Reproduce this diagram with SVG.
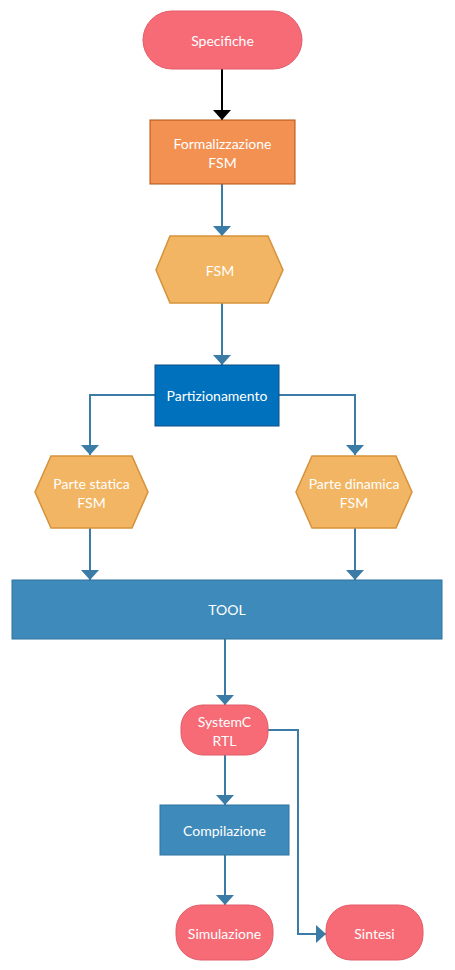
<svg xmlns="http://www.w3.org/2000/svg" width="455" height="970" viewBox="0 0 455 970">
<defs>
<style>
text{font-family:Lato,"Open Sans","Liberation Sans",sans-serif;font-size:14px;fill:#ffffff;text-anchor:middle;dominant-baseline:central}
.pink{fill:#F76B76;stroke:#E15A66;stroke-width:1}
.orange{fill:#F39152;stroke:#B0530F;stroke-width:1}
.hex{fill:#F2B563;stroke:#D6923A;stroke-width:1.5}
.dblue{fill:#0071BC;stroke:#0C4F85;stroke-width:1}
.mblue{fill:#3E8BBB;stroke:#2E73A0;stroke-width:1}
.conn{fill:none;stroke:#3A7CA5;stroke-width:2}
.connk{fill:none;stroke:#000000;stroke-width:2}
</style>
<marker id="ab" markerUnits="userSpaceOnUse" markerWidth="10" markerHeight="18" refX="10" refY="9" orient="auto" viewBox="0 0 10 18">
<path d="M0,0 L10,9 L0,18 Z" fill="#3A7CA5"/>
</marker>
<marker id="ak" markerUnits="userSpaceOnUse" markerWidth="10" markerHeight="18" refX="10" refY="9" orient="auto" viewBox="0 0 10 18">
<path d="M0,0 L10,9 L0,18 Z" fill="#000000"/>
</marker>
</defs>
<g id="connectors">
<path class="connk" d="M222,69 L222,120" marker-end="url(#ak)"/>
<path class="conn" d="M222,184 L222,236" marker-end="url(#ab)"/>
<path class="conn" d="M222,303 L222,365" marker-end="url(#ab)"/>
<path class="conn" d="M155,395 L90,395 L90,455" marker-end="url(#ab)"/>
<path class="conn" d="M279,395 L355,395 L355,455" marker-end="url(#ab)"/>
<path class="conn" d="M90,528 L90,580" marker-end="url(#ab)"/>
<path class="conn" d="M355,528 L355,580" marker-end="url(#ab)"/>
<path class="conn" d="M225,639 L225,705" marker-end="url(#ab)"/>
<path class="conn" d="M225,755 L225,805" marker-end="url(#ab)"/>
<path class="conn" d="M225,855 L225,905" marker-end="url(#ab)"/>
<path class="conn" d="M268,730 L298,730 L298,934 L326,934" marker-end="url(#ab)"/>
</g>
<g id="specifiche">
<rect class="pink" x="143" y="11" width="159" height="58" rx="29" ry="29"/>
<text x="222.5" y="40">Specifiche</text>
</g>
<g id="formalizzazione">
<rect class="orange" x="150" y="120" width="145" height="64"/>
<text x="222.5" y="143">Formalizzazione</text>
<text x="222.5" y="162">FSM</text>
</g>
<g id="fsm">
<polygon class="hex" points="170,236 268,236 283,270 268,303 170,303 156,270"/>
<text x="220" y="270">FSM</text>
</g>
<g id="partizionamento">
<rect class="dblue" x="155" y="365" width="124" height="61"/>
<text x="217" y="395">Partizionamento</text>
</g>
<g id="parte-statica">
<polygon class="hex" points="51,456 132,456 148,492 132,528 51,528 35,492"/>
<text x="91.5" y="483">Parte statica</text>
<text x="91.5" y="502">FSM</text>
</g>
<g id="parte-dinamica">
<polygon class="hex" points="312,456 396,456 412,492 396,528 312,528 296,492"/>
<text x="354" y="483">Parte dinamica</text>
<text x="354" y="502">FSM</text>
</g>
<g id="tool">
<rect class="mblue" x="12" y="580" width="430" height="59"/>
<text x="227" y="609">TOOL</text>
</g>
<g id="systemc">
<rect class="pink" x="181" y="705" width="87" height="50" rx="22" ry="22"/>
<text x="224.5" y="721">SystemC</text>
<text x="224.5" y="740">RTL</text>
</g>
<g id="compilazione">
<rect class="mblue" x="160" y="805" width="129" height="50"/>
<text x="224.5" y="830">Compilazione</text>
</g>
<g id="simulazione">
<rect class="pink" x="176" y="905" width="97" height="55" rx="25" ry="25"/>
<text x="224.5" y="933">Simulazione</text>
</g>
<g id="sintesi">
<rect class="pink" x="326" y="905" width="97" height="55" rx="25" ry="25"/>
<text x="374.5" y="933">Sintesi</text>
</g>
</svg>
